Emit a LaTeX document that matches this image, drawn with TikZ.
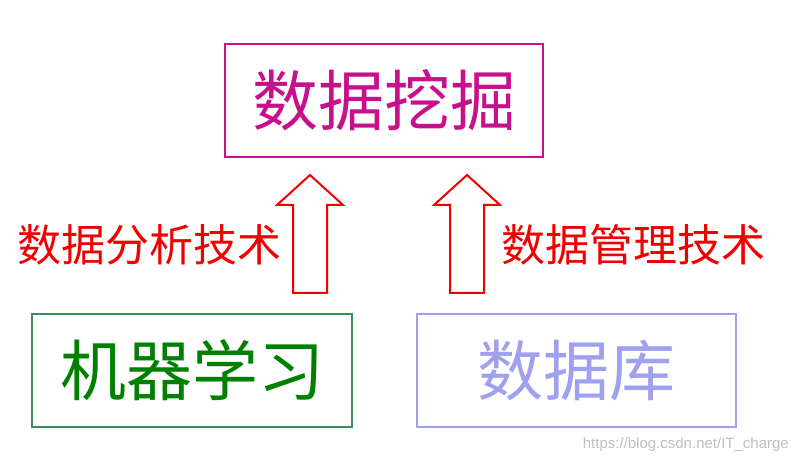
\documentclass[tikz,border=0pt]{standalone}
\usepackage{fontspec}
\newfontfamily\cjk{Noto Sans CJK SC}
\setmainfont{Liberation Sans}
\definecolor{mining}{RGB}{200,16,140}
\definecolor{mlgreen}{RGB}{0,128,0}
\definecolor{mlframe}{RGB}{60,140,90}
\definecolor{dbblue}{RGB}{160,160,240}
\definecolor{techred}{RGB}{240,0,0}
\tikzset{
  topic/.style={draw,line width=2pt,minimum width=#1,minimum height=113pt,inner sep=0pt},
  uparrow/.style={draw=techred,line width=2pt,line join=miter},
  techlabel/.style={text=techred,font=\cjk\fontsize{44}{44}\selectfont,inner sep=0pt}
}
\begin{document}
\begin{tikzpicture}[x=1pt,y=1pt]
\useasboundingbox (0,0) rectangle (799,462);
\node[topic=318pt,draw=mining,text=mining,font=\cjk\fontsize{66}{66}\selectfont] (dm) at (384,361.5) {数据挖掘};
\node[topic=320pt,draw=mlframe,text=mlgreen,font=\cjk\fontsize{66}{66}\selectfont] (ml) at (192,91.5) {机器学习};
\node[topic=319pt,draw=dbblue,text=dbblue,font=\cjk\fontsize{66}{66}\selectfont] (db) at (576.5,91.5) {数据库};
% hollow arrows
\draw[uparrow] (293,169) -- (293,257) -- (277,257) -- (310,287) -- (343,257) -- (327,257) -- (327,169) -- cycle;
\draw[uparrow] (450,169) -- (450,257) -- (434,257) -- (467,287) -- (500,257) -- (484,257) -- (484,169) -- cycle;
\node[techlabel] (ana) at (149.5,217) {数据分析技术};
\node[techlabel] (mgmt) at (633.5,217) {数据管理技术};
\node[text=black!25,font=\fontsize{15}{15}\selectfont,anchor=east,inner sep=0pt] (wm) at (789,17) {https://blog.csdn.net/IT\_charge};
\end{tikzpicture}
\end{document}
